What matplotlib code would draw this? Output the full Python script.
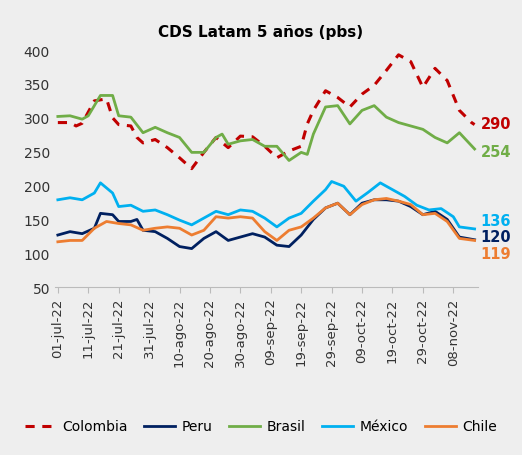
import numpy as np
import matplotlib
matplotlib.use('Agg')
import matplotlib.pyplot as plt
import pandas as pd

START = pd.Timestamp('2022-07-01')

# días desde 01-jul-22 y valores (pbs)
col_d = [0, 4, 6, 8, 12, 16, 18, 20, 24, 26, 28, 32, 36, 40, 44, 48, 52, 56, 60, 64, 68, 72, 76, 80, 82,
         84, 88, 92, 96, 100, 104, 108, 112, 116, 120, 124, 128, 132, 136, 137]
col_v = [293, 293, 288, 292, 325, 328, 300, 290, 288, 271, 263, 268, 256, 241, 225, 249, 271, 256, 273, 272,
         258, 241, 251, 258, 291, 311, 340, 330, 316, 335, 348, 370, 393, 383, 345, 373, 355, 311, 293, 290]

bra_d = [0, 4, 8, 10, 14, 18, 20, 24, 28, 32, 36, 40, 44, 48, 52, 54, 56, 60, 64, 68, 72, 76, 80, 82,
         84, 88, 92, 96, 100, 104, 108, 112, 116, 120, 124, 128, 132, 137]
bra_v = [302, 303, 298, 303, 333, 333, 303, 301, 278, 286, 278, 271, 249, 249, 271, 276, 261, 266, 268,
         258, 258, 237, 249, 246, 276, 316, 318, 291, 311, 318, 301, 293, 288, 283, 271, 263, 278, 254]

mex_d = [0, 4, 8, 12, 14, 18, 20, 24, 28, 32, 36, 40, 44, 48, 52, 56, 60, 64, 68, 72, 76, 80, 84, 88,
         90, 94, 98, 102, 106, 110, 114, 118, 122, 126, 130, 132, 137]
mex_v = [179, 182, 179, 189, 204, 189, 169, 171, 162, 164, 157, 149, 142, 152, 162, 157, 164, 162, 152,
         139, 152, 159, 177, 194, 206, 199, 177, 190, 204, 194, 184, 171, 164, 166, 154, 139, 136]

per_d = [0, 4, 8, 12, 14, 18, 20, 24, 26, 28, 32, 36, 40, 44, 48, 52, 56, 60, 64, 68, 72, 76, 80, 84,
         88, 92, 96, 100, 104, 108, 112, 116, 120, 124, 128, 132, 137]
per_v = [127, 132, 129, 137, 159, 157, 147, 147, 150, 134, 132, 122, 110, 107, 122, 132, 119, 124, 129,
         124, 112, 110, 127, 150, 167, 174, 157, 174, 179, 179, 177, 169, 157, 162, 150, 124, 120]

chi_d = [0, 4, 8, 12, 16, 20, 24, 28, 32, 36, 40, 44, 48, 52, 56, 60, 64, 68, 72, 76, 80, 84, 88, 92,
         96, 100, 104, 108, 112, 116, 120, 124, 128, 132, 137]
chi_v = [117, 119, 119, 137, 147, 144, 142, 134, 137, 139, 137, 127, 134, 154, 152, 154, 152, 132, 119,
         134, 139, 152, 167, 174, 157, 172, 179, 181, 177, 172, 157, 159, 147, 122, 119]

series = [
    ('Colombia', col_d, col_v, '#c00000', (0, (3, 2.5))),
    ('Peru', per_d, per_v, '#002060', '-'),
    ('Brasil', bra_d, bra_v, '#70ad47', '-'),
    ('México', mex_d, mex_v, '#00b0f0', '-'),
    ('Chile', chi_d, chi_v, '#ed7d31', '-'),
]
label_off = {'Colombia': 1, 'Brasil': -3, 'México': 13, 'Peru': 5, 'Chile': -19}

fig = plt.figure(figsize=(5.22, 4.56), dpi=100, facecolor='#eeeeee')
ax = fig.add_axes([0.105, 0.368, 0.81, 0.52], facecolor='#eeeeee')

for name, d, v, c, ls in series:
    x = START + pd.to_timedelta(d, unit='D')
    ax.plot(x, v, color=c, ls=ls, lw=2.2 if name == 'Colombia' else 2, label=name)
    ax.text(x[-1] + pd.Timedelta(days=2), v[-1] + label_off[name], str(v[-1]), color=c,
            fontsize=10.5, fontweight='bold', va='center', ha='left')

ax.set_ylim(50, 400)
ax.set_yticks(range(50, 401, 50))
ax.set_xlim(START - pd.Timedelta(days=1), START + pd.Timedelta(days=138))
ticks = [START + pd.Timedelta(days=10 * i) for i in range(14)]
ax.set_xticks(ticks)
ax.set_xticklabels(['01-jul-22', '11-jul-22', '21-jul-22', '31-jul-22', '10-ago-22', '20-ago-22',
                    '30-ago-22', '09-sep-22', '19-sep-22', '29-sep-22', '09-oct-22', '19-oct-22',
                    '29-oct-22', '08-nov-22'], rotation=90, fontsize=9.5, color='#333333')
ax.tick_params(axis='y', length=0, labelsize=10, colors='#333333')
ax.tick_params(axis='x', length=4, color='#bbbbbb')
for s in ['top', 'right', 'left']:
    ax.spines[s].set_visible(False)
ax.spines['bottom'].set_color('#bbbbbb')

fig.suptitle('CDS Latam 5 años (pbs)', fontweight='bold', fontsize=11, y=0.945, x=0.5)
fig.legend(loc='lower center', ncol=5, frameon=False, fontsize=10, bbox_to_anchor=(0.5, 0.02),
           handlelength=2.2, columnspacing=1.2, handletextpad=0.5)

fig.savefig('out.png', dpi=100, facecolor=fig.get_facecolor())
